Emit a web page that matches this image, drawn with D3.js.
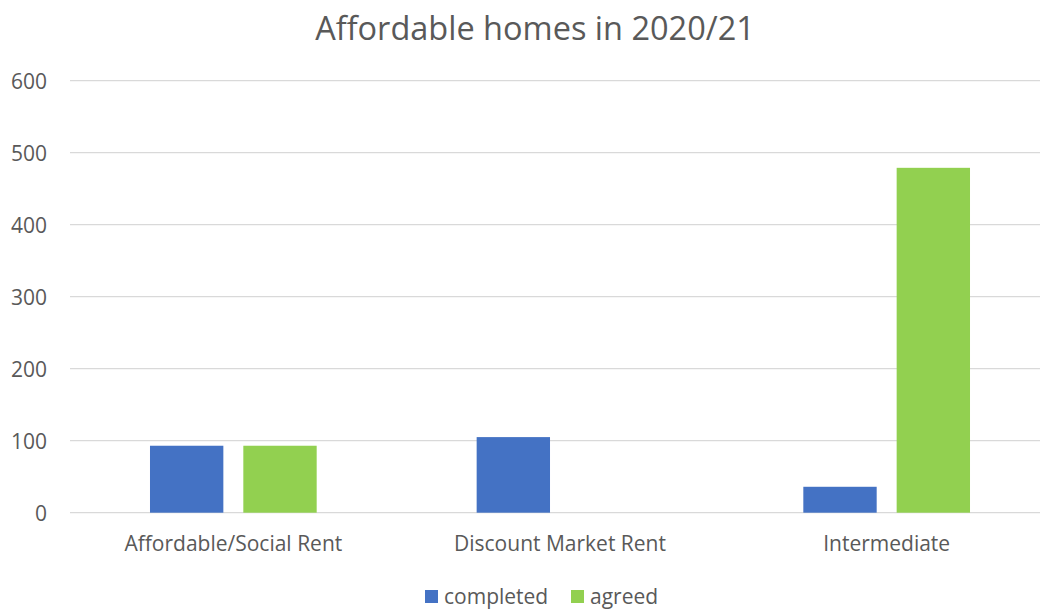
<!DOCTYPE html>
<html><head><meta charset="utf-8">
<script src="https://cdn.jsdelivr.net/npm/d3@7"></script>
<style>body{margin:0;background:#fff}svg{display:block}text{font-family:"Open Sans",sans-serif;fill:#595959}</style>
</head><body><svg id="c" width="1040" height="612"></svg>
<script>
const categories = ["Affordable/Social Rent", "Discount Market Rent", "Intermediate"];
const seriesNames = ["completed", "agreed"];
const completed = [93, 105, 36];
const agreed = [93, 0, 479];
const yTicks = [0, 100, 200, 300, 400, 500, 600];
const colors = ["#4472C4", "#92D050"];
const title = "Affordable homes in 2020/21";

const svg = d3.select("#c");
const x0 = d3.scaleBand().domain(categories).range([70, 1050]).padding(0);
const x1 = d3.scaleBand().domain(seriesNames).range([0, x0.bandwidth()]).paddingInner(0.214).paddingOuter(0.857);
const y = d3.scaleLinear().domain([0, 600]).range([512.7, 80.7]);

// gridlines
svg.append("g").selectAll("line").data(yTicks).join("line")
  .attr("x1", 70).attr("x2", 1040)
  .attr("y1", d => y(d)).attr("y2", d => y(d))
  .attr("stroke", "#D9D9D9").attr("stroke-width", 1.3);

// y axis labels
const yAxis = d3.axisLeft(y).tickValues(yTicks).tickSize(0).tickPadding(0);
const gy = svg.append("g").attr("transform", "translate(47,0)").call(yAxis);
gy.select(".domain").remove();
gy.selectAll("text").style("font-size", "21px").attr("fill", "#595959").attr("dy", "0.36em")
  .style("font-family", '"Open Sans",sans-serif');

// bars
const data = categories.map((c, i) => ({cat: c, vals: [completed[i], agreed[i]]}));
const groups = svg.append("g").selectAll("g").data(data).join("g")
  .attr("transform", d => `translate(${x0(d.cat)},0)`);
groups.selectAll("rect").data(d => d.vals.map((v, j) => ({s: seriesNames[j], v, j})).filter(e => e.v > 0))
  .join("rect")
  .attr("x", d => x1(d.s)).attr("width", x1.bandwidth())
  .attr("y", d => y(d.v)).attr("height", d => y(0) - y(d.v))
  .attr("fill", d => colors[d.j]);

// x axis labels
const xAxis = d3.axisBottom(x0).tickSize(0).tickPadding(0);
const gx = svg.append("g").attr("transform", "translate(0,551)").call(xAxis);
gx.select(".domain").remove();
gx.selectAll("text").style("font-size", "21px").attr("fill", "#595959").attr("y", 0).attr("dy", "0")
  .style("font-family", '"Open Sans",sans-serif');

// title
svg.append("text").attr("x", 535).attr("y", 40).attr("text-anchor", "middle")
  .style("font-size", "32.5px").text(title);

// legend
const legendX = [425, 571];
const leg = svg.append("g").selectAll("g").data(seriesNames).join("g")
  .attr("transform", (d, i) => `translate(${legendX[i]},590)`);
leg.append("rect").attr("width", 13).attr("height", 13).attr("fill", (d, i) => colors[i]);
leg.append("text").attr("x", 19).attr("y", 13.5).style("font-size", "21px").text(d => d);
</script></body></html>
